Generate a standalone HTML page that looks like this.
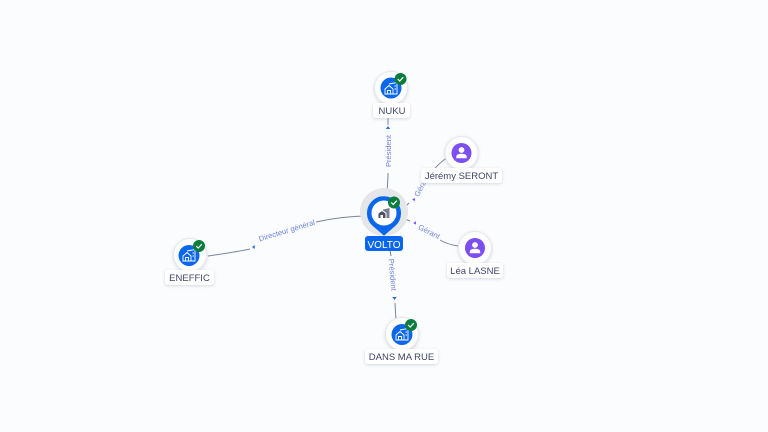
<!DOCTYPE html>
<html><head><meta charset="utf-8"><style>
html,body{margin:0;padding:0;width:768px;height:432px;overflow:hidden;background:#fbfcfe}
svg{display:block}
text{font-family:"Liberation Sans",sans-serif}
.l{font-size:9.5px;fill:#3f4468;text-anchor:middle}
.e{font-size:7.6px;fill:#6f83e0;text-anchor:middle}
.p{fill:none;stroke:#7d829c;stroke-width:1}
.lb{fill:#fff;filter:url(#s)}
.c{fill:#fff;stroke:#e6e8ee;stroke-width:1;filter:url(#s)}
.i{fill:none;stroke:#fff;stroke-width:.9}
</style></head><body>
<svg width="768" height="432" viewBox="0 0 768 432" xmlns="http://www.w3.org/2000/svg">
<defs>
<filter id="s" x="-30%" y="-30%" width="160%" height="170%"><feDropShadow dx="0" dy="1" stdDeviation="1.500" flood-color="#8a90a8" flood-opacity=".35"/></filter>
<g id="b"><circle r="6" fill="#0a7d3e"/><path d="M-2.800 0L-.8 2L2.800-1.800" fill="none" stroke="#fff" stroke-width="1.200"/></g>
<g id="h"><path class="i" d="M-6 5V0L-2-3.500L2 0V5ZM-3.500 5V1.500H-.5V5M-2-5L6-6.500V5H2M3.500-3H5M3.500 0H5"/></g>
<g id="u"><circle cy="-3" r="2.900" fill="#fff"/><path d="M-5.200 5.200V3.600C-5.200 1.600-2.500.8 0 .8S5.200 1.600 5.200 3.600V5.200Z" fill="#fff"/></g>
</defs>

<!-- edges -->
<path class="p" d="M388 118V125M388 173C388 182 387 188 387 196"/>
<path d="M388 126l-2.200 3h4.400z" fill="#2a6fe0"/>
<text class="e" transform="translate(391,151) rotate(-90)">Président</text>

<path class="p" d="M447 158C440 162 434 169 429 175M409 203L401 211"/>
<path d="M412 199l3.300-.8-.8 3.300z" fill="#7a5af0"/>
<text class="e" transform="translate(424,187) rotate(-62)">Gérant</text>

<path class="p" d="M458 246C451 245 445 243 440 240M410 221L400 217"/>
<path d="M413 223l3-1.800v3.400z" fill="#7a5af0"/>
<text class="e" transform="translate(428,234) rotate(27)">Gérant</text>

<path class="p" d="M208 256C222 254 236 252 250 249M316 222C334 218 352 216 369 216"/>
<path d="M252 247l2.800-2v4z" fill="#2a6fe0"/>
<text class="e" transform="translate(287.500,233) rotate(-17)">Directeur général</text>

<path class="p" d="M396 320L395 303M391 256L390 250"/>
<path d="M394.500 300l-2.200-3h4.400z" fill="#2a6fe0"/>
<text class="e" transform="translate(390,275) rotate(85)">Président</text>

<!-- NUKU -->
<circle class="c" cx="391" cy="88" r="16.500"/>
<circle cx="391" cy="88" r="10.500" fill="#0a66ea"/>
<use href="#h" x="391" y="89"/>
<use href="#b" x="400.500" y="79"/>
<rect class="lb" x="373" y="103" width="37" height="15" rx="3"/>
<text class="l" x="392" y="114">NUKU</text>

<!-- Jérémy -->
<circle class="c" cx="461.500" cy="153" r="16.500"/>
<circle cx="461.500" cy="153" r="10" fill="#7c4ff0"/>
<use href="#u" x="461.500" y="153"/>
<rect class="lb" x="421" y="168" width="81" height="15" rx="3"/>
<text class="l" x="461.500" y="179">Jérémy SERONT</text>

<!-- Léa -->
<circle class="c" cx="475" cy="248" r="16.500"/>
<circle cx="475" cy="248" r="10" fill="#7c4ff0"/>
<use href="#u" x="475" y="248"/>
<rect class="lb" x="447" y="263" width="56" height="15" rx="3"/>
<text class="l" x="475" y="274">Léa LASNE</text>

<!-- ENEFFIC -->
<circle class="c" cx="190" cy="255" r="16.500"/>
<circle cx="189" cy="255.500" r="10.500" fill="#0a66ea"/>
<use href="#h" x="189" y="256"/>
<use href="#b" x="199" y="246"/>
<rect class="lb" x="165" y="270" width="49" height="15" rx="3"/>
<text class="l" x="189.500" y="281">ENEFFIC</text>

<!-- DANS MA RUE -->
<circle class="c" cx="402" cy="334" r="16.500"/>
<circle cx="402" cy="334.500" r="10.500" fill="#0a66ea"/>
<use href="#h" x="402" y="335"/>
<use href="#b" x="411" y="325"/>
<rect class="lb" x="365" y="349" width="73" height="15" rx="3"/>
<text class="l" x="401.500" y="360">DANS MA RUE</text>

<!-- VOLTO -->
<circle cx="384" cy="212" r="24" fill="#e4e6e9"/>
<path d="M384 235L373 225.500A16.500 16.500 0 1 1 395 225.500Z" fill="#0a66ea" stroke="#0a66ea" stroke-width="1" stroke-linejoin="round"/>
<circle cx="384" cy="213" r="12.500" fill="#fff"/>
<path d="M378.500 218V213.500L382 211L385.500 213.500V218ZM380.500 218V215H383V218Z" fill="#4a4f68" fill-rule="evenodd"/>
<path d="M383 209.500L389.500 208V218H386.500V213L383 210.500Z" fill="#7a7f94"/>
<use href="#b" x="394" y="202.500"/>
<rect x="365" y="236" width="38" height="15" rx="3" fill="#0a66ea"/>
<text x="384" y="248" font-size="10" fill="#fff" text-anchor="middle">VOLTO</text>
</svg>
</body></html>
